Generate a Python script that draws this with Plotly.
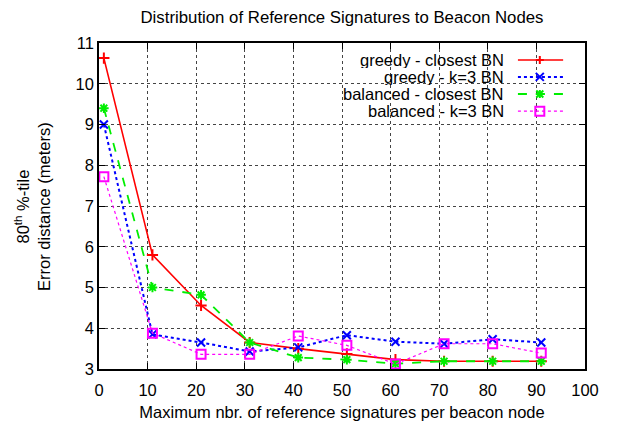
import plotly.graph_objects as go

x_vals = [1, 11, 21, 31, 41, 51, 61, 71, 81, 91]
greedy_closest = [10.63, 5.80, 4.56, 3.65, 3.50, 3.37, 3.23, 3.19, 3.19, 3.19]
greedy_k3 = [9.00, 3.85, 3.65, 3.43, 3.53, 3.83, 3.67, 3.62, 3.73, 3.65]
balanced_closest = [9.40, 5.00, 4.82, 3.65, 3.28, 3.23, 3.13, 3.19, 3.19, 3.19]
balanced_k3 = [7.72, 3.88, 3.36, 3.36, 3.81, 3.58, 3.12, 3.62, 3.62, 3.39]

names = ["greedy - closest BN", "greedy - k=3 BN", "balanced - closest BN", "balanced - k=3 BN"]
series = [greedy_closest, greedy_k3, balanced_closest, balanced_k3]
colors = ["#ff0000", "#0000ff", "#00ee00", "#ff00ff"]
dashes = ["solid", "dot", "dash", "dot"]
widths = [1.6, 2.0, 1.8, 1.2]
symbols = ["cross-thin", "x-thin", "asterisk", "square-open"]
msizes = [8, 8, 8, 9]

font = "Liberation Sans, Arial, Helvetica, sans-serif"
fs = 16.5

fig = go.Figure()
for n, s, c, d, w, sym, ms in zip(names, series, colors, dashes, widths, symbols, msizes):
    fig.add_trace(go.Scatter(
        x=x_vals, y=s, name=n, mode="lines+markers",
        line=dict(color=c, dash=d, width=w),
        marker=dict(symbol=sym, size=ms, color=c, line=dict(color=c, width=2)),
        showlegend=False,
    ))

# custom gnuplot-style legend (text right-aligned, sample at right)
leg_text_x = 0.835
leg_line_x0, leg_line_x1, leg_mark_x = 0.862, 0.955, 0.907
leg_rows = [0.948, 0.896, 0.8436, 0.791]
marker_paths = [
    "M-4,0 L4,0 M0,-4 L0,4",
    "M-4,-4 L4,4 M-4,4 L4,-4",
    "M-4,0 L4,0 M0,-4 L0,4 M-3.5,-3.5 L3.5,3.5 M-3.5,3.5 L3.5,-3.5",
    "M-4.5,-4.5 L4.5,-4.5 L4.5,4.5 L-4.5,4.5 Z",
]
shapes = []
annotations = []
for n, c, d, w, ry, mp in zip(names, colors, dashes, widths, leg_rows, marker_paths):
    annotations.append(dict(xref="paper", yref="paper", x=leg_text_x, y=ry, text=n,
                            showarrow=False, xanchor="right", yanchor="middle",
                            height=16, valign="middle", borderpad=0,
                            font=dict(family=font, size=fs, color="black")))
    shapes.append(dict(type="line", xref="paper", yref="paper", x0=leg_line_x0, x1=leg_line_x1,
                       y0=ry, y1=ry, line=dict(color=c, dash=d, width=w)))
    shapes.append(dict(type="path", xref="paper", yref="paper", xsizemode="pixel", ysizemode="pixel",
                       xanchor=leg_mark_x, yanchor=ry, path=mp,
                       line=dict(color=c, width=2), fillcolor="rgba(0,0,0,0)"))

annotations.append(dict(xref="paper", yref="paper", x=-0.138, y=0.5,
                        text="80<sup>th</sup> %-tile<br>Error distance (meters)",
                        textangle=-90, showarrow=False, xanchor="center", yanchor="middle",
                        font=dict(family=font, size=fs, color="black")))

axis_common = dict(
    showline=True, linecolor="black", linewidth=1.5, mirror="allticks",
    ticks="inside", ticklen=6, tickcolor="black", tickwidth=1,
    showgrid=True, gridcolor="#444444", griddash="dot", gridwidth=1,
    zeroline=False, automargin=False, tickfont=dict(family=font, size=fs, color="black"),
)

fig.update_layout(
    width=619, height=424,
    margin=dict(l=99, r=34, t=43, b=55),
    paper_bgcolor="white", plot_bgcolor="white",
    title=dict(text="Distribution of Reference Signatures to Beacon Nodes", xref="paper", x=0.5,
               xanchor="center", y=0.96, yanchor="middle",
               font=dict(family=font, size=16.8, color="black")),
    xaxis=dict(range=[0, 100], tickvals=list(range(0, 101, 10)), ticklabelstandoff=5,
               title=dict(text="Maximum nbr. of reference signatures per beacon node",
                          font=dict(family=font, size=fs, color="black"), standoff=9),
               **axis_common),
    yaxis=dict(range=[3, 11], tickvals=list(range(3, 12)), **axis_common),
    shapes=shapes, annotations=annotations,
    showlegend=False,
)

fig.write_html("out.html", config={"displayModeBar": False},
               post_script="document.body.style.margin='0';document.body.style.padding='0';")
